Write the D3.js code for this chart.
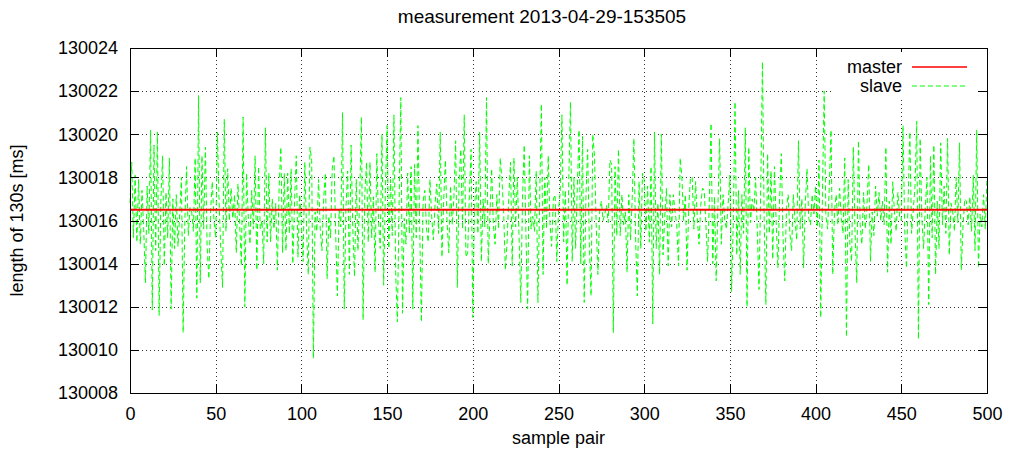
<!DOCTYPE html>
<html>
<head>
<meta charset="utf-8">
<script src="https://cdn.jsdelivr.net/npm/d3@7"></script>
<style>
  html, body { margin: 0; padding: 0; background: #fff; }
  svg { display: block; }
  text { font-family: "Liberation Sans", Arial, Helvetica, sans-serif; fill: #000; }
</style>
</head>
<body>
<svg id="chart" width="1010" height="451"></svg>
<script>
// ---- data ----
const title = "measurement 2013-04-29-153505";
const xLabel = "sample pair";
const yLabel = "length of 130s [ms]";
const seriesNames = ["master", "slave"];
const xTicks = [0, 50, 100, 150, 200, 250, 300, 350, 400, 450, 500];
const yTicks = [130008, 130010, 130012, 130014, 130016, 130018, 130020, 130022, 130024];
const masterX = [0, 500];
const master = [130016.5, 130016.5];
const slave = [
130016.8,130018.7,130015.2,130018.1,130015.0,130017.9,130014.9,130017.4,130015.6,130013.1,
130017.6,130015.4,130020.2,130011.85,130019.5,130014.6,130020.1,130011.6,130016.9,130019.0,
130013.9,130017.3,130015.2,130018.9,130011.9,130017.0,130014.7,130017.2,130014.8,130016.3,
130018.0,130010.8,130016.0,130018.5,130015.3,130016.6,130016.4,130015.5,130018.9,130012.4,
130021.8,130013.1,130019.0,130015.6,130019.4,130014.8,130013.3,130016.4,130017.8,130016.0,
130015.2,130020.1,130016.8,130014.6,130012.9,130020.7,130015.5,130018.4,130016.0,130017.5,
130016.1,130017.2,130014.5,130017.7,130015.8,130013.9,130020.8,130012.0,130018.2,130016.2,
130014.9,130017.4,130015.6,130019.0,130013.7,130018.5,130015.6,130016.0,130014.0,130020.3,
130015.0,130018.2,130015.0,130017.0,130015.6,130016.8,130013.7,130017.5,130019.4,130014.5,
130018.2,130014.6,130018.2,130015.4,130018.4,130014.0,130016.9,130019.0,130014.3,130017.2,
130015.8,130014.1,130018.7,130015.6,130013.5,130019.4,130018.8,130009.6,130016.4,130015.5,
130017.9,130015.6,130014.6,130017.0,130018.2,130013.3,130016.2,130015.2,130018.4,130019.0,
130015.4,130012.5,130016.5,130015.7,130021.0,130011.9,130016.6,130018.3,130013.5,130019.5,
130015.6,130013.4,130017.9,130014.6,130017.0,130020.8,130011.4,130017.2,130018.7,130015.0,
130018.7,130015.2,130017.1,130013.6,130019.1,130016.0,130014.7,130020.0,130013.0,130017.4,
130020.4,130014.7,130017.9,130015.3,130020.9,130013.6,130011.3,130016.8,130021.7,130011.7,
130016.1,130014.9,130018.2,130015.4,130018.5,130011.9,130018.6,130015.2,130020.4,130015.8,
130011.3,130016.9,130017.4,130015.6,130015.0,130017.9,130016.2,130015.1,130016.8,130017.7,
130015.4,130020.1,130014.3,130016.9,130018.8,130015.9,130014.5,130017.6,130015.8,130017.1,
130019.7,130012.9,130017.8,130019.3,130015.6,130020.9,130014.3,130014.5,130017.2,130019.3,
130011.5,130016.6,130017.8,130015.4,130020.1,130014.1,130017.0,130015.7,130021.7,130014.0,
130016.3,130018.4,130015.8,130014.9,130017.2,130015.6,130018.9,130017.9,130016.4,130013.7,
130015.0,130017.1,130018.7,130013.9,130018.9,130015.7,130018.0,130015.2,130012.2,130017.0,
130019.5,130015.4,130011.9,130019.0,130015.6,130016.2,130015.5,130018.3,130012.2,130016.9,
130021.4,130013.5,130018.0,130015.6,130019.0,130015.9,130014.8,130017.0,130017.2,130014.1,
130016.5,130017.3,130020.9,130015.0,130017.4,130013.0,130017.9,130021.5,130014.1,130018.0,
130014.7,130017.6,130020.2,130014.0,130019.9,130012.2,130017.1,130019.3,130014.9,130012.5,
130020.0,130019.0,130015.8,130013.5,130016.4,130016.9,130016.0,130016.3,130016.7,130015.9,
130018.8,130018.6,130010.8,130018.5,130015.3,130019.3,130015.3,130017.2,130015.8,130016.4,
130013.6,130017.2,130015.1,130017.0,130019.8,130015.1,130012.5,130017.8,130014.7,130018.2,
130017.9,130015.5,130017.6,130015.0,130018.5,130011.2,130020.1,130014.7,130016.8,130013.5,
130020.0,130014.4,130016.2,130017.5,130013.9,130017.2,130015.7,130017.2,130016.4,130015.8,
130013.9,130018.9,130018.0,130016.0,130017.2,130013.7,130016.6,130018.0,130018.0,130015.6,
130017.8,130016.1,130014.9,130016.7,130017.5,130017.4,130015.8,130014.1,130016.9,130020.5,
130014.0,130017.1,130013.2,130016.6,130019.8,130014.9,130017.2,130016.0,130015.6,130016.8,
130018.1,130012.7,130016.0,130021.5,130014.4,130017.4,130013.5,130017.2,130015.4,130020.3,
130012.0,130019.4,130015.9,130017.0,130016.4,130018.0,130015.5,130012.8,130017.6,130023.35,
130016.0,130012.1,130019.1,130015.4,130018.3,130014.2,130018.5,130015.9,130013.8,130017.0,
130019.1,130015.2,130013.2,130016.6,130017.2,130015.4,130014.6,130017.2,130016.0,130015.1,
130019.7,130015.6,130017.0,130013.8,130016.8,130018.4,130016.1,130015.8,130017.2,130016.3,
130017.6,130015.7,130018.8,130011.5,130017.3,130022.0,130016.2,130015.6,130017.6,130020.2,
130013.5,130016.4,130017.2,130015.8,130017.5,130016.1,130015.4,130018.9,130010.6,130017.9,
130014.9,130014.1,130019.4,130015.5,130013.1,130019.7,130015.8,130014.9,130017.3,130015.6,
130016.8,130018.6,130014.1,130016.4,130015.3,130017.6,130016.2,130017.3,130016.0,130016.9,
130015.8,130019.4,130013.6,130016.9,130014.9,130017.8,130016.4,130015.5,130017.3,130016.2,
130016.0,130020.4,130015.6,130013.8,130017.0,130020.1,130015.4,130016.5,130017.6,130020.6,
130010.5,130019.8,130016.1,130014.7,130016.6,130018.0,130012.1,130019.0,130015.2,130019.5,
130013.5,130016.9,130014.7,130019.6,130015.8,130017.6,130015.4,130019.8,130014.4,130016.8,
130016.4,130015.5,130018.0,130015.9,130019.6,130013.7,130015.7,130017.0,130016.9,130015.8,
130017.1,130015.5,130018.1,130014.6,130020.2,130013.8,130016.3,130015.7,130017.2,130015.6,
130018.0
];

// ---- layout ----
const W = 1010, H = 451;
const m = { left: 130, right: 1010 - 987, top: 48, bottom: 451 - 393 };
const pw = W - m.left - m.right, ph = H - m.top - m.bottom;
const fontSize = 18;

const svg = d3.select("#chart");
const x = d3.scaleLinear().domain([0, 500]).range([0, pw]);
const y = d3.scaleLinear().domain([130008, 130024]).range([ph, 0]);

const g = svg.append("g").attr("transform", `translate(${m.left},${m.top})`);

// grid
g.append("g").attr("class", "grid")
  .attr("transform", `translate(0,${ph})`)
  .call(d3.axisBottom(x).tickValues(xTicks.slice(1, -1)).tickSize(-ph).tickFormat(""));
g.append("g").attr("class", "grid")
  .call(d3.axisLeft(y).tickValues(yTicks.slice(1, -1)).tickSize(-pw).tickFormat(""));
g.selectAll(".grid .domain").remove();
g.selectAll(".grid line")
  .attr("stroke", "#333")
  .attr("stroke-width", 1)
  .attr("stroke-dasharray", "1,3")
  .attr("shape-rendering", "crispEdges");

// legend background (clears grid under key)
const legendG = svg.append("g");
legendG.append("rect")
  .attr("x", 833).attr("y", 52).attr("width", 144).attr("height", 45)
  .attr("fill", "#fff");

// lines
const lineSlave = d3.line().x((d, i) => x(i)).y(d => y(d));
g.append("path")
  .datum(slave)
  .attr("fill", "none")
  .attr("stroke", "#00ff00")
  .attr("stroke-width", 1)
  .attr("stroke-dasharray", "5,3")
  .attr("d", lineSlave);

const lineMaster = d3.line().x((d, i) => x(masterX[i])).y(d => y(d));
g.append("path")
  .datum(master)
  .attr("fill", "none")
  .attr("stroke", "#ff0000")
  .attr("stroke-width", 2)
  .attr("d", lineMaster);

// border
g.append("rect")
  .attr("x", 0).attr("y", 0).attr("width", pw).attr("height", ph)
  .attr("fill", "none").attr("stroke", "#000").attr("stroke-width", 1)
  .attr("shape-rendering", "crispEdges");

// axes (inward ticks)
const tk = 9;
const axL = g.append("g")
  .call(d3.axisLeft(y).tickValues(yTicks).tickSizeInner(-tk).tickSizeOuter(0).tickPadding(12).tickFormat(d3.format("d")));
const axR = g.append("g").attr("transform", `translate(${pw},0)`)
  .call(d3.axisRight(y).tickValues(yTicks).tickSizeInner(-tk).tickSizeOuter(0).tickFormat(""));
const axB = g.append("g").attr("transform", `translate(0,${ph})`)
  .call(d3.axisBottom(x).tickValues(xTicks).tickSizeInner(-tk).tickSizeOuter(0).tickPadding(14).tickFormat(d3.format("d")));
const axT = g.append("g")
  .call(d3.axisTop(x).tickValues(xTicks).tickSizeInner(-tk).tickSizeOuter(0).tickFormat(""));
[axL, axR, axB, axT].forEach(a => {
  a.select(".domain").remove();
  a.selectAll("line").attr("stroke", "#000").attr("shape-rendering", "crispEdges");
  a.selectAll("text").attr("font-size", fontSize).attr("font-family", "'Liberation Sans', Arial, sans-serif").attr("fill", "#000");
});

// title & labels
svg.append("text").attr("x", 542).attr("y", 23).attr("text-anchor", "middle")
  .attr("font-size", 19).text(title);
svg.append("text").attr("x", m.left + pw / 2).attr("y", 444).attr("text-anchor", "middle")
  .attr("font-size", fontSize).text(xLabel);
svg.append("text").attr("transform", `translate(23,${m.top + ph / 2}) rotate(-90)`)
  .attr("text-anchor", "middle").attr("font-size", fontSize).text(yLabel);

// legend
const legendY = [67, 86];
const legendColors = ["#ff0000", "#00ff00"];
const legendDash = [null, "5,3"];
const legendWidth = [1.6, 1];
seriesNames.forEach((name, i) => {
  legendG.append("text").attr("x", 902).attr("y", legendY[i]).attr("dy", "0.35em")
    .attr("text-anchor", "end").attr("font-size", fontSize).text(name);
  legendG.append("line").attr("x1", 912).attr("x2", 967)
    .attr("y1", legendY[i]).attr("y2", legendY[i])
    .attr("stroke", legendColors[i]).attr("stroke-width", legendWidth[i])
    .attr("stroke-dasharray", legendDash[i]);
});
</script>
</body>
</html>
